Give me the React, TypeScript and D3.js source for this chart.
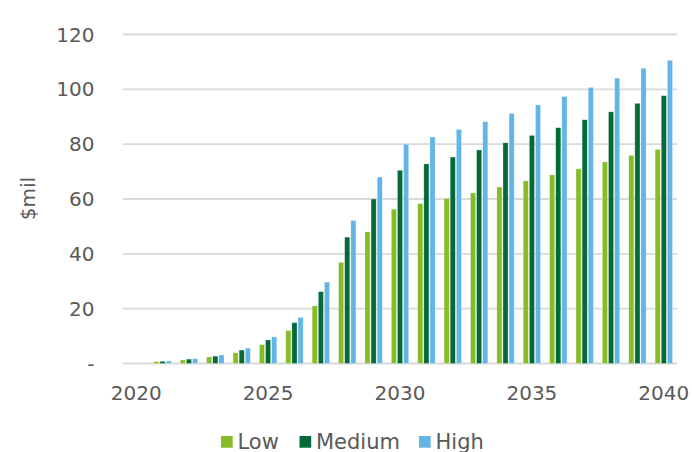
import React from "react";
import * as d3 from "d3";

const years = d3.range(2020, 2041).map(String);
const seriesNames = ["Low", "Medium", "High"];
const lowValues = [0, 0.7, 1.3, 2.4, 3.9, 6.9, 12.0, 21.0, 36.9, 48.0, 56.3, 58.3, 60.2, 62.2, 64.4, 66.6, 68.8, 71.0, 73.5, 75.9, 78.1];
const mediumValues = [0, 0.8, 1.6, 2.7, 4.9, 8.6, 14.9, 26.2, 46.1, 60.0, 70.5, 72.8, 75.3, 77.9, 80.5, 83.2, 86.0, 88.9, 91.8, 94.9, 97.7];
const highValues = [0, 0.9, 1.8, 3.1, 5.6, 9.7, 16.8, 29.7, 52.2, 68.0, 80.0, 82.6, 85.4, 88.2, 91.2, 94.3, 97.4, 100.7, 104.1, 107.7, 110.6];
const yTicks = [0, 20, 40, 60, 80, 100, 120];
const xTickLabels = ["2020", "2025", "2030", "2035", "2040"];
const colors = ["#86BC25", "#046A38", "#62B5E5"];

const W = 692;
const H = 452;
const FONT = "DejaVu Sans, Verdana, sans-serif";
const TEXT = "#595959";

export default function App() {
  const x0 = d3.scaleBand<string>().domain(years).range([123, 677]).paddingInner(0).paddingOuter(0);
  const bw = x0.bandwidth();
  const x1 = d3.scaleBand<string>().domain(seriesNames).range([bw / 2 - 8.7, bw / 2 + 8.7]).paddingInner(0.16).paddingOuter(0);
  const y = d3.scaleLinear().domain([0, 120]).range([363.5, 34.5]);
  const seriesData = [lowValues, mediumValues, highValues];

  const legendItems = [
    { name: "Low", x: 221 },
    { name: "Medium", x: 299.5 },
    { name: "High", x: 419 },
  ];

  return (
    <svg width={W} height={H} style={{ position: "absolute", left: 0, top: 0, background: "#fff" }} fontFamily={FONT}>
      {yTicks.map((t) => (
        <g key={t}>
          <line x1={123} x2={677} y1={y(t)} y2={y(t)} stroke="#D9D9D9" strokeWidth={1.8} />
          <text x={94.5} y={y(t)} textAnchor="end" dominantBaseline="central" fontSize={20} fill={TEXT}>
            {t === 0 ? "-" : String(t)}
          </text>
        </g>
      ))}
      {seriesData.map((vals, si) =>
        vals.map((v, i) => {
          if (v <= 0) return null;
          const xx = (x0(years[i]) as number) + (x1(seriesNames[si]) as number);
          return (
            <rect
              key={si + "-" + i}
              x={xx}
              y={y(v)}
              width={x1.bandwidth()}
              height={y(0) - y(v)}
              fill={colors[si]}
              stroke="#ffffff"
              strokeOpacity={0.5}
              strokeWidth={0.6}
            />
          );
        })
      )}
      {xTickLabels.map((l) => (
        <text key={l} x={(x0(l) as number) + bw / 2} y={400} textAnchor="middle" fontSize={20} fill={TEXT}>
          {l}
        </text>
      ))}
      <text
        transform={`translate(28,198.5) rotate(-90)`}
        textAnchor="middle"
        dominantBaseline="central"
        fontSize={20}
        fill={TEXT}
      >
        $mil
      </text>
      {legendItems.map((it, i) => (
        <g key={it.name}>
          <rect x={it.x} y={436} width={11.7} height={11.7} fill={colors[i]} />
          <text x={it.x + 16.5} y={449.3} fontSize={21} fill={TEXT}>
            {it.name}
          </text>
        </g>
      ))}
    </svg>
  );
}
